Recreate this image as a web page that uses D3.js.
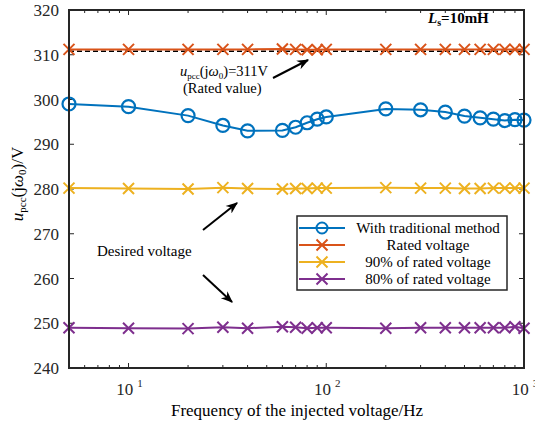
<!DOCTYPE html>
<html>
<head>
<meta charset="UTF-8">
<script src="https://d3js.org/d3.v7.min.js"></script>
<style>
  body { margin: 0; background: #fff; }
  text { font-family: "Liberation Serif", "Times New Roman", serif; }
</style>
</head>
<body>
<svg id="canvas" width="535" height="433"></svg>
<script>
// data
var freqs = [5, 10, 20, 30, 40, 60, 70, 80, 90, 100, 200, 300, 400, 500, 600, 700, 800, 900, 1000];
var traditional = [299.0, 298.4, 296.4, 294.2, 293.0, 293.1, 293.8, 294.8, 295.6, 296.1, 297.9, 297.7, 297.2, 296.3, 295.9, 295.6, 295.3, 295.5, 295.4];
var rated = [311.2, 311.2, 311.2, 311.2, 311.2, 311.3, 311.2, 311.1, 311.1, 311.2, 311.2, 311.2, 311.2, 311.2, 311.2, 311.2, 311.2, 311.2, 311.2];
var rated90 = [280.2, 280.1, 280.0, 280.3, 280.1, 280.0, 280.1, 280.1, 280.2, 280.2, 280.3, 280.2, 280.2, 280.1, 280.1, 280.2, 280.2, 280.2, 280.2];
var rated80 = [249.0, 248.9, 248.8, 249.1, 248.9, 249.2, 249.1, 248.9, 249.0, 249.0, 248.9, 249.0, 249.0, 249.0, 249.0, 249.0, 249.0, 249.2, 248.9];
var ratedValue = 310.8;
var yTicks = [240, 250, 260, 270, 280, 290, 300, 310, 320];
var xDecades = [10, 100, 1000];
var seriesNames = ["With traditional method", "Rated voltage", "90% of rated voltage", "80% of rated voltage"];
var colors = ["#0072BD", "#D95319", "#EDB120", "#7E2F8E"];

var svg = d3.select("#canvas");
var pLeft = 69, pRight = 524, pTop = 10, pBottom = 368;

var x = d3.scaleLog().domain([5, 1000]).range([pLeft, pRight]);
var y = d3.scaleLinear().domain([240, 320]).range([pBottom, pTop]);

var defs = svg.append("defs");
defs.append("marker").attr("id", "arr")
  .attr("viewBox", "0 0 10 10").attr("refX", 9).attr("refY", 5)
  .attr("markerWidth", 12).attr("markerHeight", 12).attr("markerUnits", "userSpaceOnUse")
  .attr("orient", "auto")
  .append("path").attr("d", "M0,1 L10,5 L0,9 L3,5 Z").attr("fill", "#000");

// ticks (inside, MATLAB style)
var minor = [];
for (var d = 1; d <= 100; d *= 10) {
  for (var k = 2; k <= 9; k++) {
    var v = d * k;
    if (v >= 5 && v < 1000 && v !== 10 && v !== 100) minor.push(v);
  }
}
var tk = svg.append("g").attr("stroke", "#262626").attr("stroke-width", 1);
minor.forEach(function (v) {
  tk.append("line").attr("x1", x(v)).attr("x2", x(v)).attr("y1", pBottom).attr("y2", pBottom - 3);
  tk.append("line").attr("x1", x(v)).attr("x2", x(v)).attr("y1", pTop).attr("y2", pTop + 3);
});
xDecades.forEach(function (v) {
  tk.append("line").attr("x1", x(v)).attr("x2", x(v)).attr("y1", pBottom).attr("y2", pBottom - 5);
  tk.append("line").attr("x1", x(v)).attr("x2", x(v)).attr("y1", pTop).attr("y2", pTop + 5);
});
yTicks.forEach(function (v) {
  tk.append("line").attr("x1", pLeft).attr("x2", pLeft + 5).attr("y1", y(v)).attr("y2", y(v));
  tk.append("line").attr("x1", pRight).attr("x2", pRight - 5).attr("y1", y(v)).attr("y2", y(v));
});

// tick labels
svg.append("g").selectAll("text").data(yTicks).enter().append("text")
  .attr("x", pLeft - 10).attr("y", function (d) { return y(d) + 6; })
  .attr("text-anchor", "end").attr("font-size", 17).attr("fill", "#262626")
  .text(function (d) { return d; });

var xl = svg.append("g").selectAll("text").data(xDecades).enter().append("text")
  .attr("x", function (d) { return x(d) + 1; }).attr("y", 395)
  .attr("text-anchor", "middle").attr("font-size", 17).attr("fill", "#262626");
xl.append("tspan").text("10");
xl.append("tspan").attr("font-size", 11).attr("dy", -8).attr("dx", 4)
  .text(function (d) { return Math.round(Math.log10(d)); });

// dashed rated value line
svg.append("line").attr("x1", pLeft).attr("x2", pRight)
  .attr("y1", y(ratedValue)).attr("y2", y(ratedValue))
  .attr("stroke", "#000").attr("stroke-width", 1.5).attr("stroke-dasharray", "5,3");

var all = [traditional, rated, rated90, rated80];
var line = d3.line().x(function (d) { return x(d[0]); }).y(function (d) { return y(d[1]); });

function cross(g, cx, cy, col) {
  var s = 5.5;
  g.append("path").attr("d", "M" + (cx - s) + "," + (cy - s) + "L" + (cx + s) + "," + (cy + s) +
    "M" + (cx - s) + "," + (cy + s) + "L" + (cx + s) + "," + (cy - s))
    .attr("stroke", col).attr("stroke-width", 2).attr("fill", "none");
}

all.forEach(function (vals, i) {
  var pts = freqs.map(function (f, j) { return [f, vals[j]]; });
  var g = svg.append("g");
  g.append("path").datum(pts).attr("d", line)
    .attr("fill", "none").attr("stroke", colors[i]).attr("stroke-width", 2);
  pts.forEach(function (p) {
    if (i === 0) {
      g.append("circle").attr("cx", x(p[0])).attr("cy", y(p[1])).attr("r", 6.5)
        .attr("fill", "none").attr("stroke", colors[i]).attr("stroke-width", 2.2);
    } else {
      cross(g, x(p[0]), y(p[1]), colors[i]);
    }
  });
});

// axes box
svg.append("rect").attr("x", pLeft).attr("y", pTop).attr("width", pRight - pLeft).attr("height", pBottom - pTop)
  .attr("fill", "none").attr("stroke", "#262626").attr("stroke-width", 2);

// legend
var lg = svg.append("g");
lg.append("rect").attr("x", 297).attr("y", 216).attr("width", 210).attr("height", 74)
  .attr("fill", "#fff").attr("stroke", "#262626").attr("stroke-width", 1.5);
seriesNames.forEach(function (n, i) {
  var ly = 228 + i * 17;
  lg.append("line").attr("x1", 299).attr("x2", 345).attr("y1", ly).attr("y2", ly)
    .attr("stroke", colors[i]).attr("stroke-width", 2);
  if (i === 0) {
    lg.append("circle").attr("cx", 322).attr("cy", ly).attr("r", 5.5)
      .attr("fill", "none").attr("stroke", colors[i]).attr("stroke-width", 2);
  } else {
    cross(lg, 322, ly, colors[i]);
  }
  lg.append("text").attr("x", 428).attr("y", ly + 5).attr("text-anchor", "middle")
    .attr("font-size", 15).attr("fill", "#000").text(n);
});

// annotations
var ls = svg.append("text").attr("x", 428).attr("y", 23).attr("font-size", 15)
  .attr("font-weight", "bold").attr("fill", "#000");
ls.append("tspan").attr("font-style", "italic").text("L");
ls.append("tspan").attr("font-size", 10).attr("dy", 3).text("s");
ls.append("tspan").attr("dy", -3).text("=10mH");

var up = svg.append("text").attr("x", 180).attr("y", 76).attr("font-size", 14.5).attr("fill", "#000");
up.append("tspan").attr("font-style", "italic").text("u");
up.append("tspan").attr("font-size", 9).attr("dy", 3).text("pcc");
up.append("tspan").attr("dy", -3).text("(j");
up.append("tspan").attr("font-style", "italic").text("ω");
up.append("tspan").attr("font-size", 9).attr("dy", 3).text("0");
up.append("tspan").attr("dy", -3).text(")=311V");
svg.append("text").attr("x", 183).attr("y", 93).attr("font-size", 14.5).attr("fill", "#000").text("(Rated value)");

svg.append("text").attr("x", 97).attr("y", 256).attr("font-size", 15).attr("fill", "#000").text("Desired voltage");

function arrow(x1, y1, x2, y2) {
  svg.append("line").attr("x1", x1).attr("y1", y1).attr("x2", x2).attr("y2", y2)
    .attr("stroke", "#000").attr("stroke-width", 2).attr("marker-end", "url(#arr)");
}
arrow(273, 78, 308, 60);
arrow(203, 230, 237, 203);
arrow(203, 275, 232, 302);

// axis labels
svg.append("text").attr("x", 297).attr("y", 416).attr("text-anchor", "middle")
  .attr("font-size", 17).attr("fill", "#000").text("Frequency of the injected voltage/Hz");

var yl = svg.append("text").attr("transform", "translate(23,184) rotate(-90)")
  .attr("text-anchor", "middle").attr("font-size", 17).attr("fill", "#000");
yl.append("tspan").attr("font-style", "italic").text("u");
yl.append("tspan").attr("font-size", 11).attr("dy", 3).text("pcc");
yl.append("tspan").attr("dy", -3).text("(j");
yl.append("tspan").attr("font-style", "italic").text("ω");
yl.append("tspan").attr("font-size", 11).attr("dy", 3).text("0");
yl.append("tspan").attr("dy", -3).text(")/V");
</script>
</body>
</html>
